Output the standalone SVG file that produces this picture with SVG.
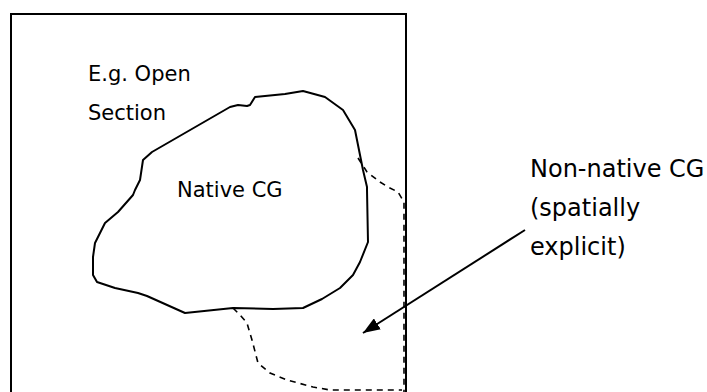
<svg xmlns="http://www.w3.org/2000/svg" width="707" height="392" viewBox="0 0 707 392">
<defs>
<style>
.t{font-family:"DejaVu Sans","Liberation Sans",sans-serif;fill:#000}
.s{fill:none;stroke:#000;stroke-width:2;stroke-linejoin:round;stroke-linecap:round}
.d{fill:none;stroke:#000;stroke-width:1.6;stroke-dasharray:6 5}
</style>
<marker id="ah" viewBox="0 0 17 13" refX="17" refY="6.5" markerWidth="17" markerHeight="13" markerUnits="userSpaceOnUse" orient="auto">
<path d="M0,0 L17,6.5 L0,13 Z" fill="#000"/>
</marker>
</defs>
<rect width="707" height="392" fill="#fff"/>
<g id="section">
<path d="M11,400 V14 H406 V400" fill="none" stroke="#000" stroke-width="2"/>
<text class="t" x="88" y="81" font-size="21">E.g. Open</text>
<text class="t" x="88" y="120" font-size="21">Section</text>
</g>
<g id="native">
<path class="s" d="M255,97 L285,94 L303,91 L325,97 L343,110 L355,130 L359,150 L363,170 L367,187 L367,190 L368,242 L360,262 L353,275 L340,288 L322,299 L303,308 L273,309 L233,308 L185,313 L147,296 L138,293 L115,288 L97,282 L93,275 L93,257 L95,243 L105,223 L118,212 L133,195 L135,190 L140,180 L143,160 L152,152 L230,107 L238,105 L247,106 L250,105 Z"/>
<text class="t" x="177" y="197" font-size="21">Native CG</text>
</g>
<g id="nonnative">
<path class="d" d="M358,158 L367,172 L380,182 L388,187 L398,192 L404,202 L404,392"/>
<path class="d" d="M233,308 L240,315 L247,323 L252,340 L258,363 L270,373 L287,380 L313,387 L330,390 L402,390"/>
<text class="t" x="530" y="177" font-size="24">Non-native CG</text>
<text class="t" x="530" y="216" font-size="24">(spatially</text>
<text class="t" x="530" y="255" font-size="24">explicit)</text>
</g>
<g id="connectors">
<line x1="525" y1="230" x2="363" y2="333" stroke="#000" stroke-width="2" marker-end="url(#ah)"/>
</g>
</svg>
